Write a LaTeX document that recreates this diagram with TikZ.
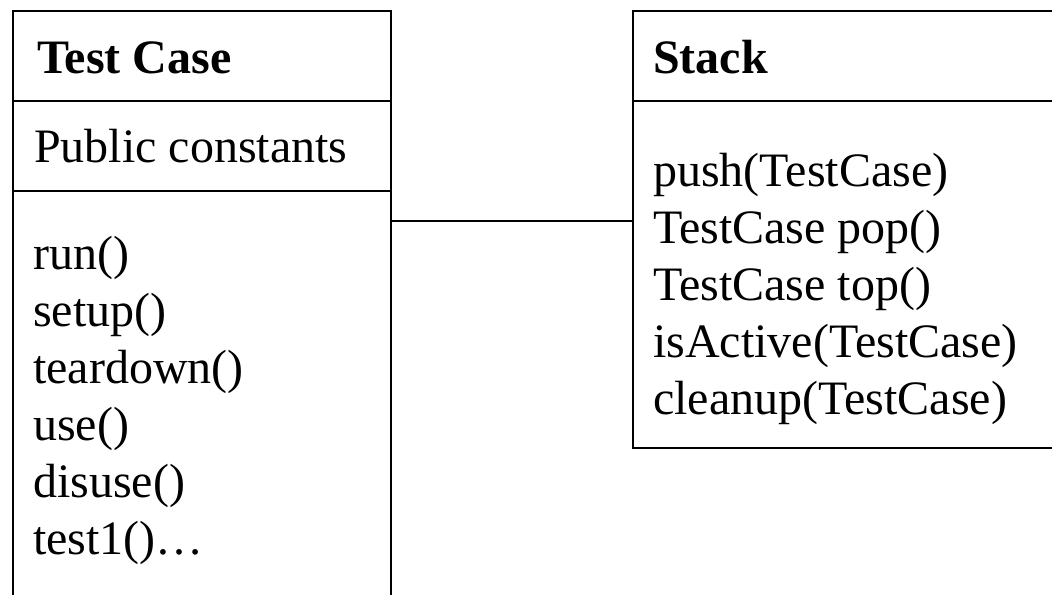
\documentclass[tikz,border=0pt]{standalone}
\usepackage{fontspec}
\setmainfont{Liberation Serif}
\begin{document}
\begin{tikzpicture}[x=0.75pt,y=-0.75pt,
  compart/.style={draw,line width=1.5pt,inner sep=0pt,anchor=north west},
  classname/.style={font=\bfseries\fontsize{36}{43}\selectfont,anchor=base west,inner sep=0pt},
  member/.style={font=\fontsize{36}{43}\selectfont,anchor=base west,inner sep=0pt},
  link/.style={line width=1.5pt}]
\useasboundingbox (0,0) rectangle (1052,594);
\clip (0,0) rectangle (1052,594);

% class TestCase: name, attributes, operations (runs past the lower edge)
\node[compart,minimum width=378*0.75pt,minimum height=90*0.75pt] (tchead) at (12,10) {};
\node[compart,minimum width=378*0.75pt,minimum height=90*0.75pt] (tcattr) at (12,100) {};
\node[compart,minimum width=378*0.75pt,minimum height=430*0.75pt] (tcops) at (12,190) {};
\node[classname] (tcname) at (37,73) {Test Case};
\node[member] (tcconst) at (34,162) {Public constants};
\foreach \m [count=\i from 0] in {run(),setup(),teardown(),use(),disuse(),test1()…}
  \node[member] (tcop\i) at (33,269+57*\i) {\m};

% class Stack: name, operations (runs past the right edge)
\node[compart,minimum width=440*0.75pt,minimum height=90*0.75pt] (sthead) at (632,10) {};
\node[compart,minimum width=440*0.75pt,minimum height=347*0.75pt] (stops) at (632,100) {};
\node[classname] (stname) at (653,73) {Stack};
\foreach \m [count=\i from 0] in {push(TestCase),TestCase pop(),TestCase top(),isActive(TestCase),cleanup(TestCase)}
  \node[member] (stop\i) at (653,186+57*\i) {\m};

% association between the two classes
\coordinate (lk) at (0,221);
\draw[link] (tcops.east |- lk) -- (stops.west |- lk);
\end{tikzpicture}
\end{document}
